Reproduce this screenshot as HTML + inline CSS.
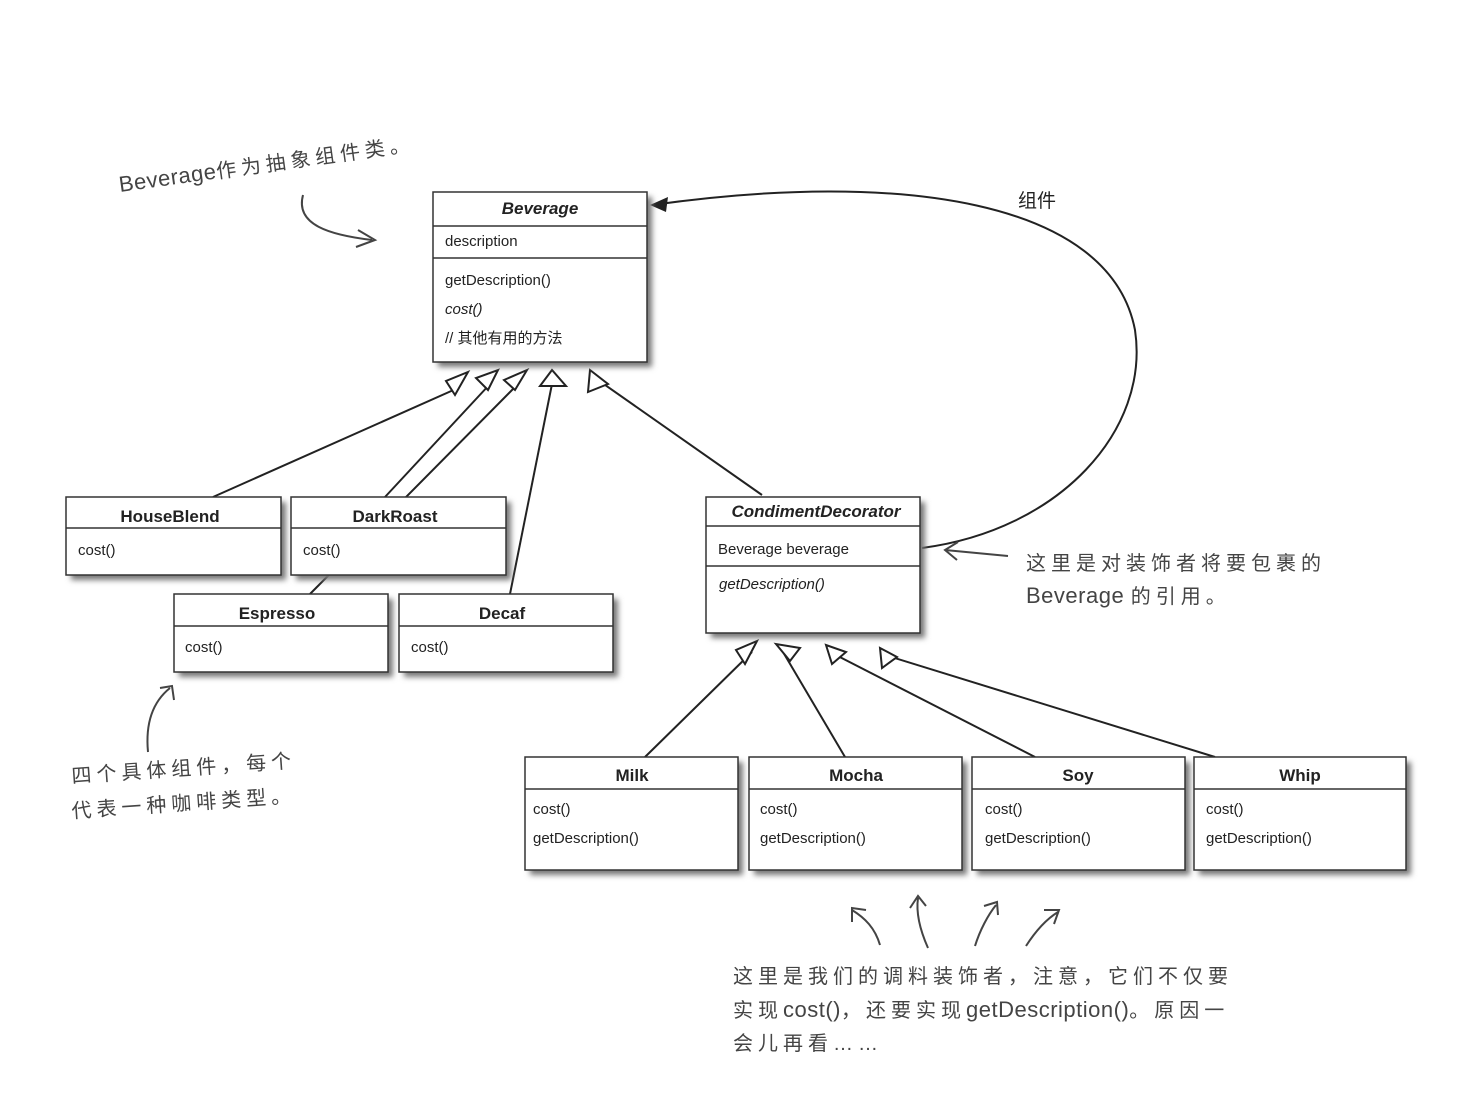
<!DOCTYPE html>
<html><head><meta charset="utf-8"><style>
body{margin:0;background:#fff;}
svg text{font-family:"Liberation Sans","Noto Sans CJK SC",sans-serif;fill:#222;}
.h{font-family:"Liberation Sans","WenQuanYi Zen Hei",sans-serif;fill:#444;font-size:20px;letter-spacing:5px;}
.l{letter-spacing:0.5px;font-size:22px;}
</style></head><body>
<svg width="1464" height="1110" viewBox="0 0 1464 1110" xmlns="http://www.w3.org/2000/svg">
<defs>
<filter id="sh" x="-10%" y="-10%" width="130%" height="130%"><feGaussianBlur stdDeviation="3"/></filter>
</defs>
<g fill="none" stroke="#222" stroke-width="2">
<line x1="213" y1="497" x2="458" y2="388"/>
<line x1="385" y1="497" x2="490" y2="384"/>
<line x1="310" y1="594" x2="518" y2="384"/>
<line x1="510" y1="594" x2="552" y2="384"/>
<line x1="762" y1="495" x2="598" y2="380"/>
<line x1="645" y1="757" x2="752" y2="652"/>
<line x1="845" y1="757" x2="783" y2="652"/>
<line x1="1035" y1="757" x2="830" y2="652"/>
<line x1="1215" y1="757" x2="885" y2="655"/>
<path d="M922,548 C1060,530 1150,430 1135,330 C1110,200 900,170 652,205"/>
</g>
<polygon points="650,205 668,197 666,212" fill="#222"/>
<g fill="#fff" stroke="#222" stroke-width="2">
<polygon points="468,372 455,395 446,381"/>
<polygon points="498,370 488,390 476,378"/>
<polygon points="527,370 515,390 504,380"/>
<polygon points="552,370 540,386 566,386"/>
<polygon points="590,370 588,392 608,384"/>
<polygon points="757,641 745,664 736,650"/>
<polygon points="776,644 790,661 800,648"/>
<polygon points="826,645 832,664 846,652"/>
<polygon points="880,648 882,668 897,657"/>
</g>
<g>
<g fill="#777" filter="url(#sh)">
<rect x="438" y="197" width="214" height="170"/>
<rect x="71" y="502" width="215" height="78"/>
<rect x="296" y="502" width="215" height="78"/>
<rect x="179" y="599" width="214" height="78"/>
<rect x="404" y="599" width="214" height="78"/>
<rect x="711" y="502" width="214" height="136"/>
<rect x="530" y="762" width="213" height="113"/>
<rect x="754" y="762" width="213" height="113"/>
<rect x="977" y="762" width="213" height="113"/>
<rect x="1199" y="762" width="212" height="113"/>
</g>
<g fill="#fff" stroke="#333" stroke-width="1.5">
<rect x="433" y="192" width="214" height="170"/>
<line x1="433" y1="226" x2="647" y2="226"/><line x1="433" y1="258" x2="647" y2="258"/>
<rect x="66" y="497" width="215" height="78"/><line x1="66" y1="528" x2="281" y2="528"/>
<rect x="291" y="497" width="215" height="78"/><line x1="291" y1="528" x2="506" y2="528"/>
<rect x="174" y="594" width="214" height="78"/><line x1="174" y1="626" x2="388" y2="626"/>
<rect x="399" y="594" width="214" height="78"/><line x1="399" y1="626" x2="613" y2="626"/>
<rect x="706" y="497" width="214" height="136"/><line x1="706" y1="526" x2="920" y2="526"/><line x1="706" y1="566" x2="920" y2="566"/>
<rect x="525" y="757" width="213" height="113"/><line x1="525" y1="789" x2="738" y2="789"/>
<rect x="749" y="757" width="213" height="113"/><line x1="749" y1="789" x2="962" y2="789"/>
<rect x="972" y="757" width="213" height="113"/><line x1="972" y1="789" x2="1185" y2="789"/>
<rect x="1194" y="757" width="212" height="113"/><line x1="1194" y1="789" x2="1406" y2="789"/>
</g>
</g>
<g font-size="15">
<text x="540" y="214" text-anchor="middle" font-weight="bold" font-style="italic" font-size="17">Beverage</text>
<text x="445" y="246">description</text>
<text x="445" y="285">getDescription()</text>
<text x="445" y="314" font-style="italic">cost()</text>
<text x="445" y="343">// 其他有用的方法</text>
<text x="170" y="522" text-anchor="middle" font-weight="bold" font-size="17">HouseBlend</text>
<text x="78" y="555">cost()</text>
<text x="395" y="522" text-anchor="middle" font-weight="bold" font-size="17">DarkRoast</text>
<text x="303" y="555">cost()</text>
<text x="277" y="619" text-anchor="middle" font-weight="bold" font-size="17">Espresso</text>
<text x="185" y="652">cost()</text>
<text x="502" y="619" text-anchor="middle" font-weight="bold" font-size="17">Decaf</text>
<text x="411" y="652">cost()</text>
<text x="816" y="517" text-anchor="middle" font-weight="bold" font-style="italic" font-size="17">CondimentDecorator</text>
<text x="718" y="554">Beverage beverage</text>
<text x="719" y="589" font-style="italic">getDescription()</text>
<text x="632" y="781" text-anchor="middle" font-weight="bold" font-size="17">Milk</text>
<text x="533" y="814">cost()</text><text x="533" y="843">getDescription()</text>
<text x="856" y="781" text-anchor="middle" font-weight="bold" font-size="17">Mocha</text>
<text x="760" y="814">cost()</text><text x="760" y="843">getDescription()</text>
<text x="1078" y="781" text-anchor="middle" font-weight="bold" font-size="17">Soy</text>
<text x="985" y="814">cost()</text><text x="985" y="843">getDescription()</text>
<text x="1300" y="781" text-anchor="middle" font-weight="bold" font-size="17">Whip</text>
<text x="1206" y="814">cost()</text><text x="1206" y="843">getDescription()</text>
</g>
<text x="1018" y="207" font-size="19" fill="#333">组件</text>
<text class="h" x="120" y="192" transform="rotate(-8 120 192)"><tspan class="l">Beverage</tspan>作为抽象组件类。</text>
<path d="M303,195 C295,225 330,235 372,240" fill="none" stroke="#444" stroke-width="2"/>
<path d="M358,230 L375,240 L356,247" fill="none" stroke="#444" stroke-width="2"/>
<text class="h" x="1026" y="570">这里是对装饰者将要包裹的</text>
<text class="h" x="1026" y="603"><tspan class="l">Beverage </tspan>的引用。</text>
<path d="M1008,556 L945,550 M958,542 L945,550 L957,560" fill="none" stroke="#444" stroke-width="2"/>
<text class="h" x="72" y="783" transform="rotate(-4 72 783)">四个具体组件，每个</text>
<text class="h" x="72" y="818" transform="rotate(-4 72 818)">代表一种咖啡类型。</text>
<path d="M148,752 C145,720 155,700 170,688 M160,688 L172,686 L174,700" fill="none" stroke="#444" stroke-width="2"/>
<text class="h" x="733" y="983">这里是我们的调料装饰者，注意，它们不仅要</text>
<text class="h" x="733" y="1017">实现<tspan class="l">cost()</tspan>，还要实现<tspan class="l">getDescription()</tspan>。原因一</text>
<text class="h" x="733" y="1050">会儿再看……</text>
<g fill="none" stroke="#444" stroke-width="2">
<path d="M880,945 C875,928 865,918 852,910 M852,922 L852,908 L866,910"/>
<path d="M928,948 C920,930 916,912 918,898 M910,908 L918,896 L926,906"/>
<path d="M975,946 C980,930 988,915 996,905 M984,906 L997,902 L998,915"/>
<path d="M1026,946 C1035,932 1045,920 1058,912 M1044,910 L1059,910 L1054,924"/>
</g>
</svg>
</body></html>
